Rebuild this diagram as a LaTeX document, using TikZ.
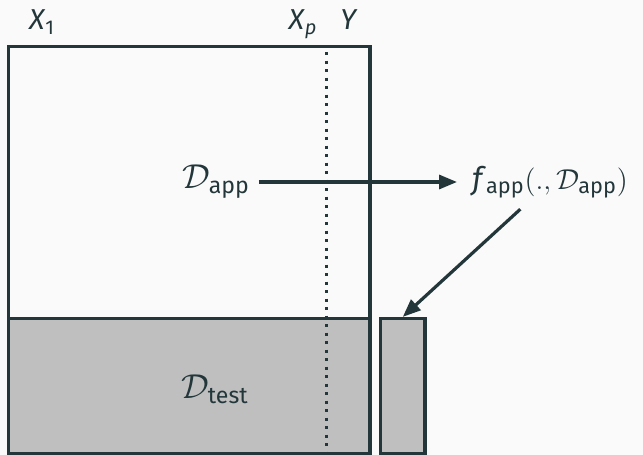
\documentclass[tikz,border=0pt]{standalone}
\usepackage{amsmath}
\usepackage{fontspec}
\setmainfont{Fira Sans}
\setsansfont{Fira Sans}
\usetikzlibrary{arrows.meta}
\definecolor{mDarkTeal}{HTML}{23373B}
\definecolor{mBackground}{HTML}{FAFAFA}
\definecolor{mTestFill}{HTML}{BFBFBF}

\begin{document}
\begin{tikzpicture}[x=0.5pt,y=-0.5pt,>={Triangle[length=9pt,width=7pt]},
		every node/.style={font=\fontsize{14.4}{17}\selectfont, text=mDarkTeal},
		setlabel/.style={font=\fontsize{16.5}{20}\selectfont},
		frame/.style={draw=mDarkTeal, line width=1.6pt},
		link/.style={->, draw=mDarkTeal, line width=1.6pt}]
		
		%--- Background and bounding box ---
		\fill[mBackground] (0,0) rectangle (643,455);
		\useasboundingbox (0,0) rectangle (643,455);
		
		%--- Data table: learning part on top, test part below ---
		\begin{scope}
			% Test rows (grey)
			\fill[mTestFill] (8.5,318.5) rectangle (370,453.5);
			\draw[frame] (8.5,318.5) rectangle (370,453.5);
			
			% Learning rows
			\draw[frame] (8.5,46.5) rectangle (370,318.5);
			
			% Separation between the variables and the target
			\draw[mDarkTeal, line width=1.5pt, dash pattern=on 1.5pt off 2.75pt]
				(326,52) -- (326,453.5);
			
			% Column labels
			\node[anchor=base] (x1) at (42,30) {\textit{X}$_{\text{1}}$};
			\node[anchor=base] (xp) at (303,30) {\textit{X}$_{\textit{p}}$};
			\node[anchor=base] (y) at (349,30) {\textit{Y}};
			
			% Set labels
			\node[setlabel] (dapp) at (216,182) {$\mathcal{D}_{\text{app}}$};
			\node[setlabel] (dtest) at (215,389) {$\mathcal{D}_{\text{test}}$};
		\end{scope}
		
		%--- Fitted model and its predictions ---
		\node[font=\fontsize{15.5}{19}\selectfont] (fapp) at (550,182)
			{\textit{f}$_{\text{app}}(.,\mathcal{D}_{\text{app}})$};
		\node[frame, fill=mTestFill, minimum width=22.25pt, minimum height=67.5pt,
			inner sep=0pt] (ytest) at (402.75,386) {};
		
		% Arrows
		\draw[link, shorten <=1pt, shorten >=4pt] (dapp) -- (fapp);
		\draw[link, shorten <=3pt] (fapp) -- (ytest.north);
		
	\end{tikzpicture}
\end{document}
